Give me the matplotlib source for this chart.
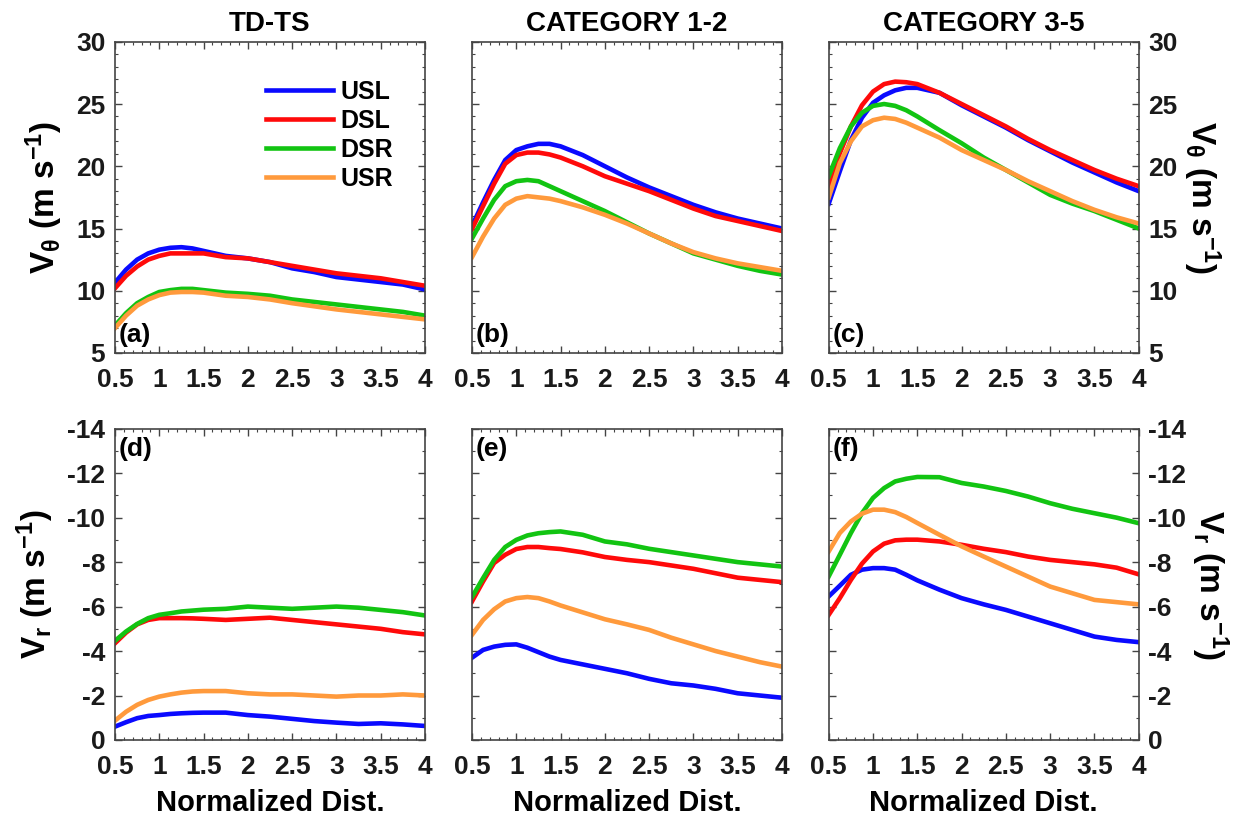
import numpy as np
import matplotlib
matplotlib.use('Agg')
import matplotlib.pyplot as plt
from matplotlib.ticker import MultipleLocator

plt.rcParams['font.family'] = ['Liberation Sans', 'DejaVu Sans']
plt.rcParams['font.weight'] = 'bold'
plt.rcParams['mathtext.fontset'] = 'custom'
plt.rcParams['mathtext.rm'] = 'Liberation Sans:bold'
plt.rcParams['mathtext.it'] = 'Liberation Sans:bold'
plt.rcParams['mathtext.bf'] = 'Liberation Sans:bold'
plt.rcParams['axes.unicode_minus'] = False

# normalized distance
dist = [0.5, 0.625, 0.75, 0.875, 1.0, 1.125, 1.25, 1.375, 1.5, 1.75, 2.0,
        2.25, 2.5, 2.75, 3.0, 3.25, 3.5, 3.75, 4.0]

titles = ['TD-TS', 'CATEGORY 1-2', 'CATEGORY 3-5']
quads = ['USL', 'DSL', 'DSR', 'USR']
colors = {'USL': '#0a0aff', 'DSL': '#ff0a0a', 'DSR': '#12c412', 'USR': '#ff9a3c'}

# tangential wind (m/s)
vt_tdts = {
    'USL': [10.65, 11.7, 12.5, 13.0, 13.3, 13.45, 13.5, 13.4, 13.2, 12.8, 12.6, 12.3, 11.8, 11.5, 11.1, 10.9, 10.7, 10.5, 10.1],
    'DSL': [10.2, 11.2, 11.95, 12.5, 12.8, 13.0, 13.0, 13.0, 13.0, 12.7, 12.6, 12.3, 12.0, 11.7, 11.4, 11.2, 11.0, 10.7, 10.4],
    'DSR': [7.2, 8.2, 9.0, 9.5, 9.9, 10.05, 10.15, 10.15, 10.05, 9.85, 9.75, 9.6, 9.3, 9.1, 8.9, 8.7, 8.5, 8.3, 8.0],
    'USR': [7.0, 8.0, 8.8, 9.3, 9.65, 9.85, 9.9, 9.9, 9.85, 9.6, 9.5, 9.3, 9.0, 8.75, 8.5, 8.3, 8.1, 7.9, 7.7],
}
vt_cat12 = {
    'USL': [15.2, 17.1, 18.9, 20.5, 21.3, 21.6, 21.8, 21.8, 21.6, 20.9, 20.0, 19.1, 18.3, 17.6, 16.9, 16.3, 15.8, 15.4, 15.0],
    'DSL': [14.95, 16.8, 18.6, 20.2, 20.9, 21.1, 21.1, 20.95, 20.7, 20.0, 19.2, 18.6, 18.0, 17.3, 16.6, 16.0, 15.6, 15.2, 14.8],
    'DSR': [14.2, 15.8, 17.3, 18.4, 18.8, 18.9, 18.8, 18.4, 18.0, 17.2, 16.4, 15.5, 14.6, 13.8, 13.0, 12.5, 12.0, 11.6, 11.3],
    'USR': [12.7, 14.35, 15.8, 16.9, 17.4, 17.6, 17.5, 17.4, 17.2, 16.7, 16.1, 15.4, 14.6, 13.8, 13.1, 12.6, 12.2, 11.9, 11.6],
}
vt_cat35 = {
    'USL': [17.0, 19.6, 22.1, 23.9, 25.1, 25.7, 26.1, 26.3, 26.3, 25.9, 24.9, 24.0, 23.1, 22.1, 21.2, 20.3, 19.5, 18.7, 18.0],
    'DSL': [18.4, 21.05, 23.2, 24.9, 26.0, 26.6, 26.8, 26.75, 26.6, 25.9, 25.0, 24.1, 23.2, 22.2, 21.3, 20.5, 19.7, 19.0, 18.4],
    'DSR': [19.2, 21.45, 23.2, 24.3, 24.85, 25.0, 24.85, 24.5, 24.0, 22.9, 21.85, 20.7, 19.7, 18.7, 17.7, 17.0, 16.4, 15.7, 15.0],
    'USR': [17.5, 20.25, 22.0, 23.2, 23.7, 23.9, 23.8, 23.5, 23.1, 22.3, 21.3, 20.5, 19.7, 18.8, 18.0, 17.2, 16.5, 15.9, 15.4],
}

# radial wind (m/s), inflow negative
vr_tdts = {
    'USL': [-0.6, -0.8, -0.98, -1.08, -1.12, -1.17, -1.2, -1.22, -1.23, -1.23, -1.12, -1.05, -0.95, -0.85, -0.78, -0.72, -0.75, -0.7, -0.63],
    'DSL': [-4.35, -4.83, -5.2, -5.4, -5.48, -5.48, -5.48, -5.47, -5.45, -5.4, -5.45, -5.5, -5.4, -5.3, -5.2, -5.1, -5.0, -4.85, -4.75],
    'DSR': [-4.46, -4.88, -5.22, -5.48, -5.63, -5.7, -5.78, -5.82, -5.86, -5.9, -6.0, -5.95, -5.9, -5.95, -6.0, -5.95, -5.85, -5.75, -5.6],
    'USR': [-0.87, -1.27, -1.58, -1.8, -1.95, -2.05, -2.13, -2.18, -2.2, -2.2, -2.1, -2.05, -2.05, -2.0, -1.95, -2.0, -2.0, -2.05, -2.0],
}
vr_cat12 = {
    'USL': [-3.7, -4.05, -4.2, -4.28, -4.3, -4.15, -3.95, -3.75, -3.6, -3.4, -3.2, -3.0, -2.75, -2.55, -2.45, -2.3, -2.1, -2.0, -1.9],
    'DSL': [-6.23, -7.13, -7.96, -8.33, -8.59, -8.68, -8.68, -8.63, -8.59, -8.44, -8.23, -8.1, -8.0, -7.85, -7.7, -7.5, -7.3, -7.2, -7.1],
    'DSR': [-6.43, -7.28, -8.1, -8.68, -9.0, -9.2, -9.3, -9.35, -9.38, -9.23, -8.93, -8.8, -8.6, -8.45, -8.3, -8.15, -8.0, -7.9, -7.8],
    'USR': [-4.73, -5.4, -5.88, -6.23, -6.38, -6.43, -6.38, -6.23, -6.05, -5.74, -5.43, -5.2, -4.95, -4.6, -4.3, -4.0, -3.75, -3.5, -3.3],
}
vr_cat35 = {
    'USL': [-6.46, -6.94, -7.43, -7.66, -7.73, -7.73, -7.66, -7.43, -7.18, -6.76, -6.38, -6.1, -5.85, -5.55, -5.25, -4.95, -4.65, -4.5, -4.4],
    'DSL': [-5.63, -6.38, -7.2, -7.93, -8.48, -8.83, -8.98, -9.01, -9.01, -8.93, -8.78, -8.6, -8.45, -8.25, -8.1, -8.0, -7.9, -7.75, -7.45],
    'DSR': [-7.36, -8.33, -9.31, -10.2, -10.89, -11.33, -11.63, -11.75, -11.83, -11.82, -11.56, -11.4, -11.2, -10.95, -10.65, -10.4, -10.2, -10.0, -9.75],
    'USR': [-8.48, -9.31, -9.83, -10.18, -10.36, -10.36, -10.25, -10.03, -9.76, -9.23, -8.71, -8.25, -7.8, -7.35, -6.9, -6.6, -6.3, -6.2, -6.1],
}

vt_all = [vt_tdts, vt_cat12, vt_cat35]
vr_all = [vr_tdts, vr_cat12, vr_cat35]
panel_tags = ['(a)', '(b)', '(c)', '(d)', '(e)', '(f)']

fig = plt.figure(figsize=(12.5, 8.19), dpi=100)
lefts = [0.092, 0.3776, 0.663]
w, h = 0.248, 0.38
bottoms = [0.569, 0.0965]

frame_col = '#444444'
fs = 20

for row in range(2):
    for col in range(3):
        ax = fig.add_axes([lefts[col], bottoms[row], w, h])
        data = vt_all[col] if row == 0 else vr_all[col]
        for q in quads:
            ax.plot(dist, data[q], color=colors[q], lw=3.3, label=q)
        ax.set_xlim(0.5, 4)
        ax.set_xticks([0.5, 1, 1.5, 2, 2.5, 3, 3.5, 4])
        ax.set_xticklabels(['0.5', '1', '1.5', '2', '2.5', '3', '3.5', '4'])
        ax.xaxis.set_minor_locator(MultipleLocator(0.1))
        ax.yaxis.set_minor_locator(MultipleLocator(1))
        if row == 0:
            ax.set_ylim(5, 30)
            ax.set_yticks([5, 10, 15, 20, 25, 30])
            ax.set_title(titles[col], fontsize=fs, fontweight='bold', pad=8)
            ax.text(0.012, 0.02, panel_tags[col], transform=ax.transAxes,
                    fontsize=fs - 1, fontweight='bold', va='bottom', ha='left')
            ylab = r'V$_\theta$ (m s$^{-1}$)'
        else:
            ax.set_ylim(0, -14)
            ax.set_yticks([0, -2, -4, -6, -8, -10, -12, -14])
            ax.set_xlabel('Normalized Dist.', fontsize=fs + 1, fontweight='bold', labelpad=7)
            ax.text(0.012, 0.975, panel_tags[3 + col], transform=ax.transAxes,
                    fontsize=fs - 1, fontweight='bold', va='top', ha='left')
            ylab = r'V$_r$ (m s$^{-1}$)'
        ax.tick_params(which='both', direction='in', top=True, right=True,
                       colors=frame_col, labelcolor='#1a1a1a', labelsize=fs - 1)
        ax.tick_params(which='major', length=5, width=1, pad=7)
        ax.tick_params(axis='x', which='major', pad=11)
        ax.tick_params(which='minor', length=2.5, width=0.8)
        for s in ax.spines.values():
            s.set_color(frame_col)
            s.set_linewidth(1.2)
        if col == 0:
            ax.set_ylabel(ylab, fontsize=fs + 4, fontweight='bold', labelpad=8)
        elif col == 1:
            ax.tick_params(axis='y', labelleft=False)
        else:
            ax.tick_params(axis='y', labelleft=False, labelright=True)
            ax.yaxis.set_label_position('right')
            ax.set_ylabel(ylab, fontsize=fs + 4, fontweight='bold', rotation=270, labelpad=32)
        if row == 0 and col == 0:
            ax.legend(loc='upper right', frameon=False, fontsize=fs - 2,
                      handlelength=2.7, labelspacing=0.2, handletextpad=0.3,
                      bbox_to_anchor=(0.93, 0.91), borderaxespad=0)

fig.savefig('out.png', dpi=100)
